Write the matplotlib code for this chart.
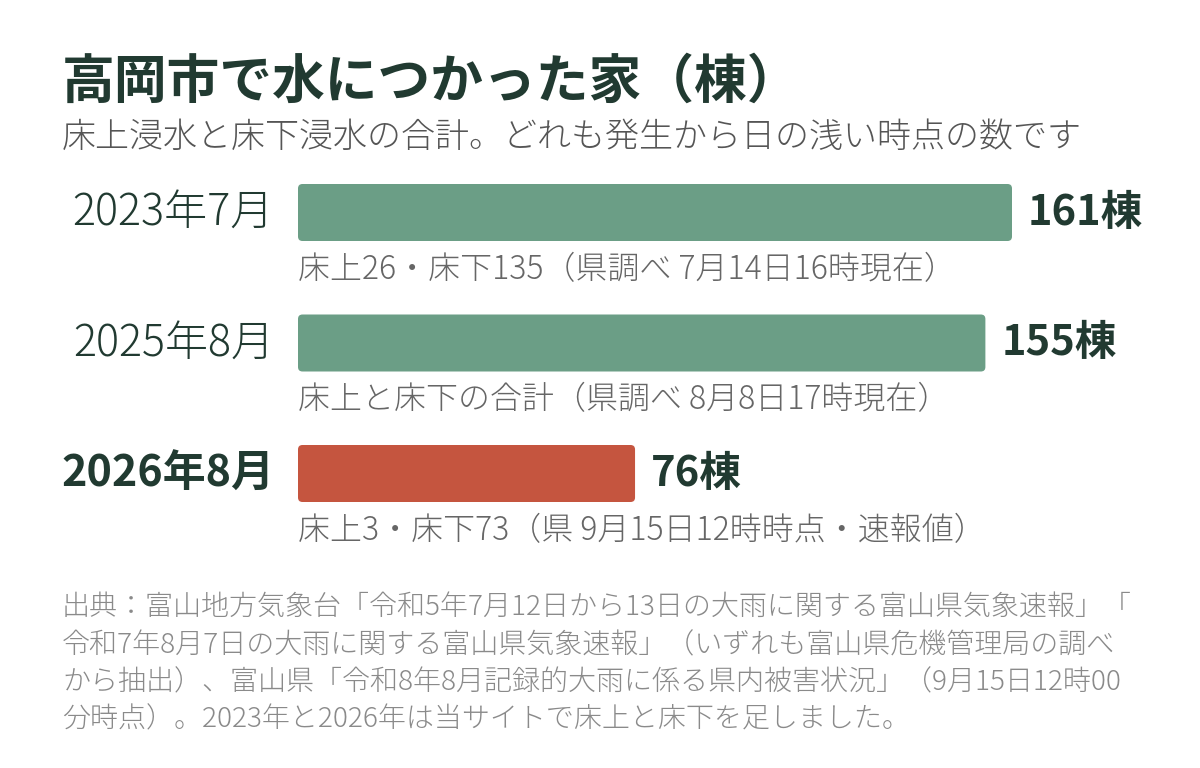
import matplotlib
matplotlib.use('Agg')
import matplotlib.pyplot as plt
from matplotlib.patches import FancyBboxPatch

plt.rcParams['font.family'] = ['Noto Sans CJK JP', 'DejaVu Sans']

# data
periods = ['2023年7月', '2025年8月', '2026年8月']
houses = [161, 155, 76]
notes = [
    '床上26・床下135（県調べ 7月14日16時現在）',
    '床上と床下の合計（県調べ 8月8日17時現在）',
    '床上3・床下73（県 9月15日12時時点・速報値）',
]
unit = '棟'
bar_colors = ['#6b9e86', '#6b9e86', '#c5553f']
highlight = 2

title = '高岡市で水につかった家（棟）'
subtitle = '床上浸水と床下浸水の合計。どれも発生から日の浅い時点の数です'
source_lines = [
    '出典：富山地方気象台「令和5年7月12日から13日の大雨に関する富山県気象速報」「',
    '令和7年8月7日の大雨に関する富山県気象速報」（いずれも富山県危機管理局の調べ',
    'から抽出）、富山県「令和8年8月記録的大雨に係る県内被害状況」（9月15日12時00',
    '分時点）。2023年と2026年は当サイトで床上と床下を足しました。',
]

DARK = '#213a31'
W, H = 1200, 768
fig = plt.figure(figsize=(W / 100, H / 100), dpi=100)
fig.patch.set_facecolor('white')

# axes: left edge at bar start, 130.5 px per row
px_per_unit = 714 / 161
row_px = 130.5
top_px = 212.5 - row_px / 2
ax = fig.add_axes([298 / W, 1 - (top_px + 3 * row_px) / H,
                   1 - 298 / W, 3 * row_px / H])
ax.set_xlim(0, (W - 298) / px_per_unit)
ax.set_ylim(2.5, -0.5)
ax.axis('off')

bar_h = 57 / row_px
bars = ax.barh(range(len(houses)), houses, height=bar_h, color=bar_colors)
aspect = (1 / row_px) / (1 / px_per_unit)
for b, c in zip(bars, bar_colors):
    b.remove()
    ax.add_patch(FancyBboxPatch((b.get_x(), b.get_y()), b.get_width(), b.get_height(),
                                boxstyle='round,pad=0,rounding_size=%f' % (4.5 / px_per_unit),
                                mutation_aspect=aspect, facecolor=c, edgecolor='none'))

for i, (p, v, n) in enumerate(zip(periods, houses, notes)):
    bold = (i == highlight)
    ax.text(-24 / px_per_unit, i, p, ha='right', va='center', fontsize=31,
            color=DARK, fontweight='bold' if bold else 'light')
    ax.text(v + 16 / px_per_unit, i, f'{v}{unit}', ha='left', va='center',
            fontsize=30, color=DARK, fontweight='bold')
    ax.text(0, i + 57 / row_px, n, ha='left', va='center', fontsize=23,
            color='#666666', fontweight='light')

fig.text(62 / W, 1 - 82 / H, title, ha='left', va='center', fontsize=38,
         fontweight='bold', color=DARK)
fig.text(62 / W, 1 - 137 / H, subtitle, ha='left', va='center', fontsize=24.5,
         color='#555555', fontweight='light')

for k, line in enumerate(source_lines):
    fig.text(62 / W, 1 - (608 + 37 * k) / H, line, ha='left', va='center',
             fontsize=20.2, color='#8a8a8a', fontweight='light')

fig.savefig('out.png', dpi=100)
